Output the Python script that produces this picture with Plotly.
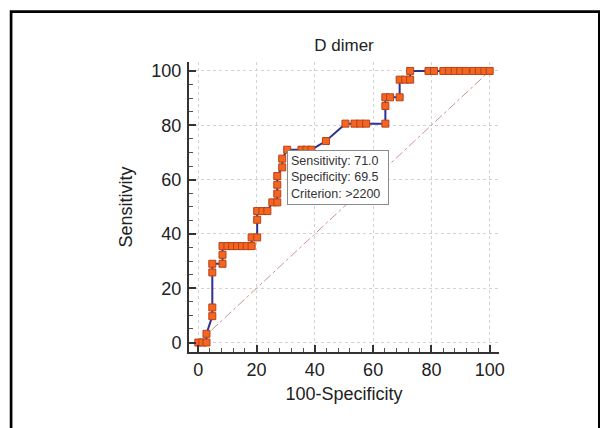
import plotly.graph_objects as go

# ROC curve points (100-Specificity, Sensitivity)
fpr = [0, 1.4, 2.8, 2.8, 4.8, 4.8, 4.8, 4.8, 8.3, 8.3, 8.3, 10.0, 11.6, 13.3, 15.0, 16.6,
       18.3, 18.3, 20.2, 20.2, 20.2, 22.0, 23.7, 25.4, 27.1, 27.1, 27.1, 27.1, 28.8, 28.8,
       30.5, 35.4, 37.1, 38.8, 43.8, 50.5, 53.6, 55.6, 57.6, 64.2, 64.2, 64.2, 65.8, 69.1,
       69.1, 71.0, 72.7, 72.7, 79.0, 80.9, 84.1, 86.1, 88.0, 89.9, 91.8, 94.4, 96.3, 98.2,
       100]
sens = [0, 0, 0, 3.2, 9.7, 12.9, 25.8, 29.0, 29.0, 32.3, 35.5, 35.5, 35.5, 35.5, 35.5, 35.5,
        35.5, 38.7, 38.7, 45.2, 48.4, 48.4, 48.4, 51.6, 51.6, 54.8, 58.1, 61.3, 64.5, 67.7,
        71.0, 71.0, 71.0, 71.0, 74.2, 80.6, 80.6, 80.6, 80.6, 80.6, 87.1, 90.3, 90.3, 90.3,
        96.8, 96.8, 96.8, 100, 100, 100, 100, 100, 100, 100, 100, 100, 100, 100,
        100]
diag_x = [0, 100]
diag_y = [0, 100]

crit_x = 30.5
crit_sens = 71.0
crit_spec = 69.5
criterion = ">2200"

x_ticks = [0, 20, 40, 60, 80, 100]
y_ticks = [0, 20, 40, 60, 80, 100]

OFF = 8  # page body margin of the browser
W, H = 600, 420
# plot-area edges in window pixels, converted to figure pixels
L, R, T, B = 188.5 - OFF, 499.0 - OFF, 61.7 - OFF, 351.7 - OFF
pw, ph = R - L, B - T


def px(xp):
    return (xp - OFF - L) / pw


def py(yp):
    return (B - (yp - OFF)) / ph


FONT = "Liberation Sans, Arial, sans-serif"

fig = go.Figure()
fig.add_trace(go.Scatter(
    x=diag_x, y=diag_y, mode="lines",
    line=dict(color="#cf9090", width=1, dash="dashdot"),
    hoverinfo="skip", showlegend=False))
fig.add_trace(go.Scatter(
    x=fpr, y=sens, mode="lines+markers",
    line=dict(color="#2e3192", width=2),
    marker=dict(symbol="square", size=7, color="#f4651f",
                line=dict(color="#b8421a", width=1)),
    showlegend=False))

fig.add_annotation(
    x=crit_x, y=crit_sens, xref="x", yref="y",
    xanchor="left", yanchor="top", showarrow=False, align="left",
    text=f"Sensitivity: {crit_sens:.1f}<br>Specificity: {crit_spec:.1f}<br>Criterion: {criterion.replace('>', '&gt;')}",
    font=dict(family=FONT, size=12.5, color="#333333"),
    width=94, bgcolor="white", bordercolor="#8a8a8a", borderwidth=1, borderpad=3)

fig.add_shape(type="rect", xref="paper", yref="paper",
              x0=px(10.3), x1=px(599.5), y0=py(445), y1=py(11.3),
              line=dict(color="black", width=2.7), fillcolor="rgba(0,0,0,0)", layer="above")

axis_font = dict(family=FONT, size=18, color="#222222")

fig.update_layout(
    width=W, height=H,
    margin=dict(l=L, r=W - R, t=T, b=H - B, pad=0),
    paper_bgcolor="white", plot_bgcolor="white",
    title=dict(text="D dimer", x=(344 - OFF) / W, xref="container", xanchor="center",
               y=1 - (45 - OFF) / H, yref="container", yanchor="middle",
               font=dict(family=FONT, size=17, color="#222222")),
    xaxis=dict(range=[-3.2, 103.2], tickvals=x_ticks, showline=True, linecolor="#333333",
               linewidth=2, ticks="inside", ticklen=7, tickwidth=2, tickcolor="#333333",
               showgrid=True, gridcolor="#d2d2d2", griddash="dot", gridwidth=1,
               zeroline=False, tickfont=axis_font, ticklabelstandoff=0,
               minor=dict(dtick=4, tick0=0, ticks="inside", ticklen=4, tickwidth=1,
                          tickcolor="#555555", showgrid=False),
               title=dict(text="100-Specificity", font=axis_font, standoff=9)),
    yaxis=dict(range=[-3.5, 103.3], tickvals=y_ticks, showline=True, linecolor="#333333",
               linewidth=2, ticks="inside", ticklen=7, tickwidth=2, tickcolor="#333333",
               showgrid=True, gridcolor="#d2d2d2", griddash="dot", gridwidth=1,
               zeroline=False, tickfont=axis_font, ticklabelstandoff=2,
               minor=dict(dtick=5, tick0=0, ticks="inside", ticklen=4, tickwidth=1,
                          tickcolor="#555555", showgrid=False),
               title=dict(text="Sensitivity", font=axis_font, standoff=14)),
)

fig.write_html("out.html")
